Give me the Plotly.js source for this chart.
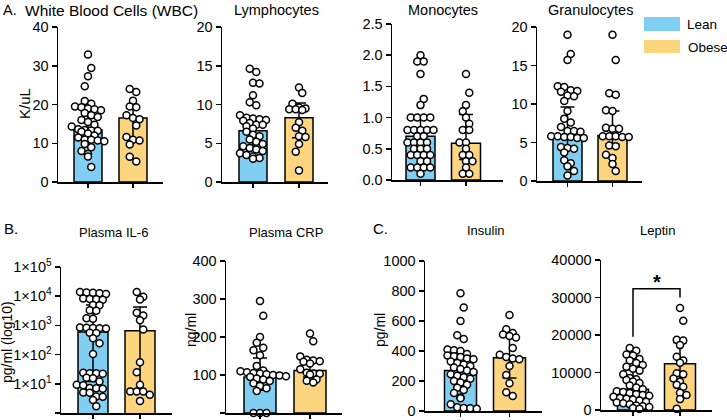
<!DOCTYPE html>
<html><head><meta charset="utf-8">
<script src="https://cdn.plot.ly/plotly-3.0.1.min.js"></script>
<style>html,body{margin:0;padding:0;background:#fff}#chart{width:727px;height:420px}</style>
</head><body><div id="chart"></div>
<script>
// ---------- DATA ----------
const groups = ['Lean', 'Obese'];

const wbcLean  = [32.9, 29.4, 27.3, 24.7, 20.9, 20.2, 19.5, 19.3, 19.0, 18.8, 18.5, 17.8, 17.2, 16.8, 16.0, 15.5, 14.8, 14.3, 13.6, 13.4, 13.3, 13.2, 13.0, 12.5, 12.0, 11.5, 11.0, 10.9, 10.7, 10.5, 9.8, 9.0, 8.0, 7.2, 6.6, 3.9];
const wbcObese = [24.0, 23.2, 21.0, 19.5, 19.3, 17.2, 16.5, 16.2, 14.6, 11.6, 10.9, 10.7, 9.7, 6.5, 5.3];
const wbcBar = [13.5, 16.5], wbcLow = [11.0, 11.0], wbcHigh = [19.0, 19.5];

const lymLean  = [14.6, 14.2, 12.8, 12.7, 11.2, 10.3, 9.9, 8.6, 8.3, 8.2, 8.1, 8.0, 7.9, 7.6, 7.4, 7.4, 7.2, 6.9, 6.5, 6.1, 5.9, 5.5, 5.2, 4.9, 4.6, 4.4, 4.2, 4.0, 3.7, 3.5, 3.3, 3.1, 3.0];
const lymObese = [12.2, 11.5, 10.1, 9.6, 9.5, 9.4, 9.4, 9.3, 7.7, 7.0, 6.6, 5.9, 5.8, 4.9, 3.9, 1.5];
const lymBar = [6.6, 8.3], lymLow = [4.2, 5.7], lymHigh = [8.4, 10.2];

const monoLean  = [2.0, 1.9, 1.9, 1.7, 1.3, 1.2, 1.0, 1.0, 1.0, 1.0, 0.8, 0.8, 0.8, 0.8, 0.8, 0.7, 0.7, 0.6, 0.6, 0.6, 0.6, 0.5, 0.5, 0.5, 0.4, 0.4, 0.4, 0.4, 0.3, 0.3, 0.2, 0.2, 0.2, 0.2, 0.1];
const monoObese = [1.7, 1.4, 1.2, 1.1, 1.0, 0.9, 0.8, 0.8, 0.6, 0.6, 0.5, 0.4, 0.4, 0.3, 0.3, 0.2, 0.1, 0.1];
const monoBar = [0.70, 0.59], monoLow = [0.40, 0.33], monoHigh = [1.0, 1.05];

const granLean  = [19.0, 16.5, 15.7, 12.3, 12.2, 11.8, 11.7, 11.6, 11.1, 11.0, 10.4, 9.1, 8.1, 7.6, 7.0, 6.5, 6.5, 6.4, 5.8, 5.8, 5.7, 5.7, 5.6, 5.6, 4.4, 4.3, 4.2, 3.7, 2.7, 2.3, 1.9, 1.3, 0.7];
const granObese = [19.0, 15.7, 11.4, 11.2, 9.2, 9.1, 6.9, 6.8, 6.8, 5.8, 5.8, 5.8, 5.7, 5.7, 4.6, 4.5, 3.4, 3.0, 2.2, 1.3];
const granBar = [5.8, 5.9], granLow = [4.3, 4.8], granHigh = [9.6, 9.1];

const il6Lean  = [14000, 13500, 13000, 12500, 12000, 8300, 8000, 7800, 7500, 5000, 4900, 3300, 3200, 1750, 1700, 850, 830, 820, 800, 780, 560, 550, 360, 245, 105, 24, 23, 23, 22, 16, 15.5, 12, 9.3, 9.0, 7.2, 7.0, 6.8, 5.0, 4.9, 3.7, 3.6, 2.8, 1.7];
const il6Obese = [14000, 9500, 7700, 2700, 2200, 1500, 730, 55, 25, 9.3, 5.5, 5.5, 5.4, 4.2, 2.6];
const il6Bar = [600, 650], il6Low = [12, 5], il6High = [5000, 4300];
const il6TickVals = [1, 10, 100, 1000, 10000, 100000];
const il6TickText = ['1×10<sup>0</sup>', '1×10<sup>1</sup>', '1×10<sup>2</sup>', '1×10<sup>3</sup>', '1×10<sup>4</sup>', '1×10<sup>5</sup>'];

const crpLean  = [295, 256, 200, 185, 172, 165, 152, 124, 112, 110, 107, 105, 104, 102, 100, 99, 97, 95, 91, 88, 84, 78, 71, 65, 58, 0, 0, 0];
const crpObese = [209, 189, 149, 140, 138, 136, 135, 130, 115, 106, 104, 103, 101, 88, 85, 80];
const crpBar = [95, 112], crpLow = [60, 95], crpHigh = [145, 140];

const insLean  = [785, 690, 600, 505, 480, 410, 405, 400, 380, 370, 365, 360, 350, 345, 330, 320, 310, 300, 290, 280, 270, 260, 245, 235, 225, 215, 200, 190, 175, 155, 140, 120, 90, 85, 45, 25, 20, 18, 15];
const insObese = [640, 545, 520, 510, 500, 490, 420, 375, 360, 350, 345, 300, 240, 185, 125, 100];
const insBar = [270, 355], insLow = [160, 220], insHigh = [365, 505];

const lepLean  = [16500, 15800, 14800, 14500, 13600, 13200, 12500, 12000, 11500, 11000, 10500, 9500, 8500, 8200, 8000, 7600, 7200, 6500, 6000, 5500, 5000, 4800, 4500, 4200, 4000, 3800, 3500, 3200, 3000, 2800, 2500, 2200, 2000, 1800, 1500, 1200, 1000, 800, 500, 300];
const lepObese = [27200, 23800, 18700, 18500, 17300, 14200, 13200, 12600, 9800, 9500, 8400, 7500, 6700, 6200, 4600, 4000, 2900, 300];
const lepBar = [5500, 12300], lepLow = [3000, 6500], lepHigh = [11500, 18000];

// ---------- LAYOUT HELPERS ----------
const W = 727, H = 420;
const BLUE = '#80CFF3', ORANGE = '#FDD57E';
const FONT = 'Liberation Sans, Arial, Helvetica, sans-serif';
const TICK = 14.5;

const panels = [
  {lean: wbcLean,  obese: wbcObese,  bar: wbcBar,  low: wbcLow,  high: wbcHigh,  xd:[58,163],  c:[88,133],    yd:[27,182],  range:[0,40],   dtick:10,   bw:28},
  {lean: lymLean,  obese: lymObese,  bar: lymBar,  low: lymLow,  high: lymHigh,  xd:[222,328], c:[253,299],   yd:[27,182],  range:[0,20],   dtick:5,    bw:28},
  {lean: monoLean, obese: monoObese, bar: monoBar, low: monoLow, high: monoHigh, xd:[392,503], c:[420.5,466], yd:[24,180],  range:[0,2.5],  dtick:0.5,  bw:29, fmt:'.1f'},
  {lean: granLean, obese: granObese, bar: granBar, low: granLow, high: granHigh, xd:[537,642], c:[567.5,612.5],yd:[27,181], range:[0,20],   dtick:5,    bw:29},
  {lean: il6Lean,  obese: il6Obese,  bar: il6Bar,  low: il6Low,  high: il6High,  xd:[61,172],  c:[93,140],    yd:[267,413], range:[0,5],    log:true,   bw:30},
  {lean: crpLean,  obese: crpObese,  bar: crpBar,  low: crpLow,  high: crpHigh,  xd:[226,342], c:[260,310],   yd:[261,413], range:[0,400],  dtick:100,  bw:32},
  {lean: insLean,  obese: insObese,  bar: insBar,  low: insLow,  high: insHigh,  xd:[425,542], c:[460.5,509.5],yd:[261,411],range:[0,1000], dtick:200,  bw:32},
  {lean: lepLean,  obese: lepObese,  bar: lepBar,  low: lepLow,  high: lepHigh,  xd:[601,712], c:[633,680],   yd:[260,410], range:[0,40000],dtick:10000,bw:31, fmt:'d'}
];

// GraphPad-like scatter: points within `bin` px vertically share a centred row;
// consecutive rows of the same parity are staggered so they interleave.
function rowOffsets(vals, toPx, bin, sp) {
  const idx = vals.map((v, i) => i).sort((a, b) => toPx(vals[b]) - toPx(vals[a]));
  const out = new Array(vals.length).fill(0);
  let row = [], start = null, prevN = -1, prevShift = 0, zig = 1;
  const flush = () => {
    const n = row.length;
    let shift = 0;
    if (prevN >= 0 && (n % 2) === (prevN % 2)) {
      shift = prevShift === 0 ? zig * sp / 2 : 0;
      if (shift !== 0) zig = -zig;
    }
    row.forEach((i, j) => { out[i] = (j - (n - 1) / 2) * sp + shift; });
    prevN = n; prevShift = shift; row = [];
  };
  for (const i of idx) {
    const y = toPx(vals[i]);
    if (start === null || start - y >= bin) { if (row.length) flush(); start = y; }
    row.push(i);
  }
  if (row.length) flush();
  return out;
}

const traces = [];
const layout = {
  width: W, height: H, margin: {l:0, r:0, t:0, b:0},
  paper_bgcolor: '#fff', plot_bgcolor: 'rgba(0,0,0,0)',
  showlegend: false, font: {family: FONT, color: '#000', size: 13},
  shapes: [], annotations: []
};

panels.forEach((p, k) => {
  const n = k + 1, sfx = n === 1 ? '' : String(n);
  const xa = 'x' + sfx, ya = 'y' + sfx;
  const unit = p.c[1] - p.c[0];
  const xr = [(p.xd[0] - p.c[0]) / unit, (p.xd[1] - p.c[0]) / unit];
  const hpx = p.yd[1] - p.yd[0];
  const toPx = p.log
    ? v => (Math.log10(v) - p.range[0]) / (p.range[1] - p.range[0]) * hpx
    : v => (v - p.range[0]) / (p.range[1] - p.range[0]) * hpx;

  traces.push({
    type: 'bar', x: [0, 1], y: p.bar, width: p.bw / unit, xaxis: xa, yaxis: ya,
    marker: {color: [BLUE, ORANGE], line: {color: '#000', width: 1.5}},
    error_y: {type: 'data', symmetric: false,
      array: p.bar.map((b, i) => p.high[i] - b),
      arrayminus: p.bar.map((b, i) => b - p.low[i]),
      color: '#000', thickness: 1.5, width: 7},
    hoverinfo: 'none'
  });
  [p.lean, p.obese].forEach((vals, g) => {
    const off = rowOffsets(vals, toPx, 5, 6.5);
    traces.push({
      type: 'scatter', mode: 'markers', xaxis: xa, yaxis: ya, cliponaxis: false,
      x: vals.map((v, i) => g + off[i] / unit), y: vals,
      marker: {symbol: 'circle', size: 7, color: '#fff', line: {color: '#000', width: 1.5}},
      hoverinfo: 'none'
    });
  });

  layout['xaxis' + sfx] = {
    domain: [p.xd[0] / W, p.xd[1] / W], anchor: ya, range: xr,
    showline: true, linecolor: '#000', linewidth: 1.5,
    tickmode: 'array', tickvals: [0, 1], ticks: 'outside', ticklen: 4, tickwidth: 1.5, tickcolor: '#000',
    showticklabels: false, showgrid: false, zeroline: false, fixedrange: true
  };
  const yax = {
    domain: [1 - p.yd[1] / H, 1 - p.yd[0] / H], anchor: xa, range: p.range,
    showline: true, linecolor: '#000', linewidth: 1.5,
    ticks: 'outside', ticklen: 5, tickwidth: 1.5, tickcolor: '#000',
    tickfont: {size: TICK, color: '#000', family: FONT},
    showgrid: false, zeroline: false, fixedrange: true
  };
  if (p.log) { yax.type = 'log'; yax.tickmode = 'array'; yax.tickvals = il6TickVals; yax.ticktext = il6TickText; }
  else { yax.dtick = p.dtick; yax.tick0 = 0; if (p.fmt) yax.tickformat = p.fmt; }
  layout['yaxis' + sfx] = yax;
});

function ann(text, xpx, ypx, size, opts) {
  layout.annotations.push(Object.assign({
    text, xref: 'paper', yref: 'paper', x: xpx / W, y: 1 - ypx / H,
    showarrow: false, xanchor: 'center', yanchor: 'middle',
    font: {size, family: FONT, color: '#000'}
  }, opts || {}));
}
ann('A.', 1, 10, 14.5, {xanchor: 'left'});
ann('B.', 2, 229, 15, {xanchor: 'left'});
ann('C.', 371, 229, 15, {xanchor: 'left'});
ann('White Blood Cells (WBC)', 111, 10, 15.5);
ann('Lymphocytes', 276, 10, 14.5);
ann('Monocytes', 443, 10, 14.5);
ann('Granulocytes', 590, 10, 14.5);
ann('Plasma IL-6', 113, 232, 13);
ann('Plasma CRP', 286, 232, 13);
ann('Insulin', 486, 230, 13);
ann('Leptin', 657, 230, 13);
ann('K/uL', 24, 103, 15, {textangle: -90});
ann('pg/ml (log10)', 7, 342, 14, {textangle: -90});
ann('ng/ml', 191, 330, 14, {textangle: -90});
ann('pg/ml', 380, 330, 14, {textangle: -90});

// legend
layout.shapes.push({type: 'rect', xref: 'paper', yref: 'paper', x0: 644 / W, x1: 680 / W, y0: 1 - 31 / H, y1: 1 - 17 / H, fillcolor: BLUE, line: {width: 0}});
layout.shapes.push({type: 'rect', xref: 'paper', yref: 'paper', x0: 644 / W, x1: 680 / W, y0: 1 - 53 / H, y1: 1 - 40 / H, fillcolor: ORANGE, line: {width: 0}});
ann(groups[0], 685, 24, 13.5, {xanchor: 'left'});
ann(groups[1], 686, 47, 13.5, {xanchor: 'left'});

// significance bracket on Leptin
layout.shapes.push({type: 'path', xref: 'x8', yref: 'y8',
  path: 'M0,19500 L0,32300 L1,32300 L1,30000', line: {color: '#000', width: 1.5}});
layout.annotations.push({text: '<b>*</b>', xref: 'x8', yref: 'y8', x: 0.5, y: 30800, showarrow: false,
  xanchor: 'center', yanchor: 'bottom', font: {size: 20, family: FONT, color: '#000'}});

Plotly.newPlot('chart', traces, layout, {staticPlot: true, displayModeBar: false});
</script>
</body></html>
